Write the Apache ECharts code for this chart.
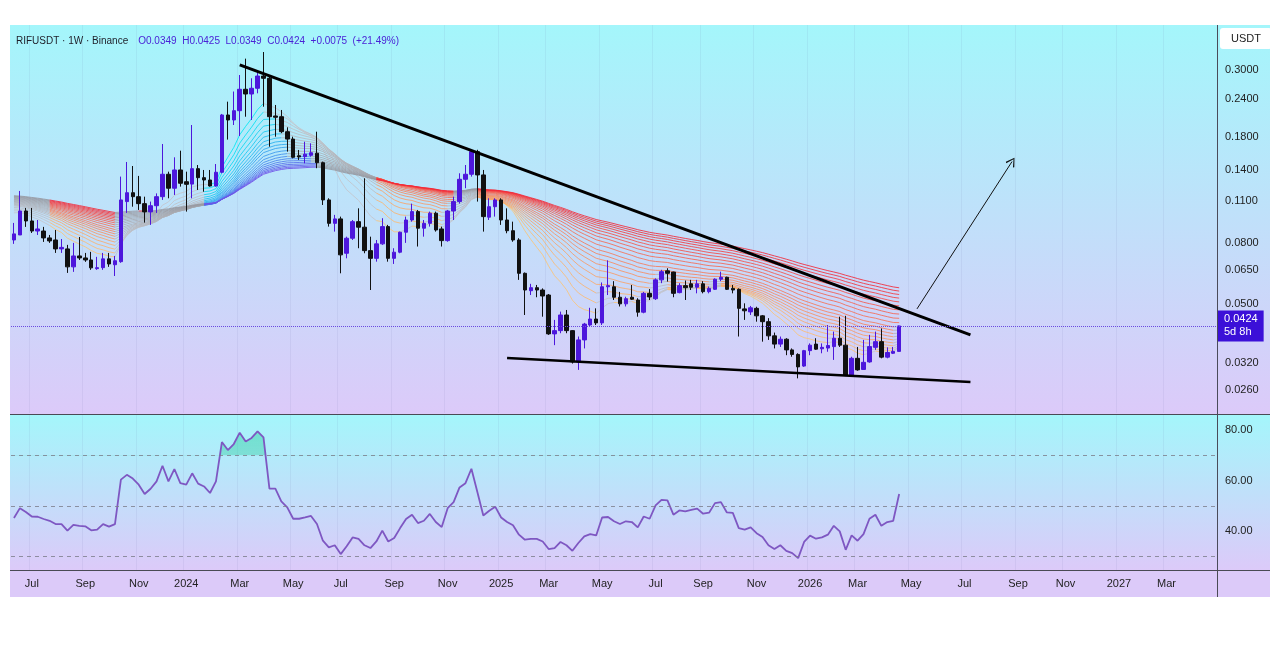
<!DOCTYPE html>
<html><head><meta charset="utf-8">
<script src="https://cdn.jsdelivr.net/npm/echarts@6/dist/echarts.min.js"></script>
<style>
html,body{margin:0;padding:0;background:#fff;}
#wrap{position:relative;width:1280px;height:649px;overflow:hidden;}
.bg{position:absolute;}
#chart{position:absolute;left:0;top:0;width:1280px;height:649px;}
</style></head><body>
<div id="wrap">
  <div class="bg" style="left:10px;top:25px;width:1260px;height:389px;background:linear-gradient(#a4f6fb,#dccaf9);"></div>
  <div class="bg" style="left:10px;top:415px;width:1260px;height:155px;background:linear-gradient(#a4f6fb,#dccaf9);"></div>
  <div class="bg" style="left:10px;top:570px;width:1260px;height:27px;background:#dccaf9;"></div>
  <div class="bg" style="left:10px;top:414px;width:1260px;height:1px;background:#4a4a55;"></div>
  <div class="bg" style="left:10px;top:570px;width:1260px;height:1px;background:#4a4a55;"></div>
  <div class="bg" style="left:1217px;top:25px;width:1px;height:572px;background:#4a4a55;"></div>
  <div id="chart"></div>
</div>
<script>
// ---------- data ----------
const startWeek = '2023-06-12';
const weekCount = 203;
const monthNames = ['Jan','Feb','Mar','Apr','May','Jun','Jul','Aug','Sep','Oct','Nov','Dec'];

const opens = [0.0818,0.0850,0.1021,0.0946,0.0876,0.0876,0.0831,0.0818,0.0764,0.0764,
0.0666,0.0724,0.0713,0.0702,0.0657,0.0662,0.0708,0.0677,0.0693,0.1097,
0.1174,0.1139,0.1080,0.1014,0.1063,0.1139,0.1352,0.1215,0.1397,0.1277,
0.1254,0.1411,0.1317,0.1294,0.1236,0.1373,0.2127,0.2047,0.2198,0.2589,
0.2497,0.2609,0.2865,0.2816,0.2111,0.2099,0.1872,0.1769,0.1558,0.1547,
0.1563,0.1588,0.1477,0.1111,0.0929,0.0961,0.0739,0.0829,0.0941,0.0902,
0.0754,0.0711,0.0794,0.0906,0.0711,0.0745,0.0868,0.0953,0.1016,0.0895,
0.0929,0.1004,0.0890,0.0814,0.1021,0.1097,0.1301,0.1352,0.1607,0.1345,
0.0974,0.1055,0.1111,0.0953,0.0878,0.0818,0.0634,0.0555,0.0568,0.0558,
0.0537,0.0399,0.0409,0.0461,0.0409,0.0322,0.0381,0.0427,0.0447,0.0434,
0.0572,0.0572,0.0528,0.0502,0.0528,0.0517,0.0471,0.0544,0.0522,0.0603,
0.0646,0.0640,0.0547,0.0577,0.0585,0.0570,0.0585,0.0551,0.0561,0.0606,
0.0615,0.0565,0.0561,0.0483,0.0472,0.0485,0.0458,0.0438,0.0393,0.0369,
0.0383,0.0353,0.0341,0.0312,0.0351,0.0369,0.0356,0.0358,0.0362,0.0386,
0.0366,0.0291,0.0331,0.0304,0.0322,0.0360,0.0376,0.0334,0.0344,0.0349];

const closes = [0.0857,0.1021,0.0946,0.0876,0.0890,0.0831,0.0812,0.0764,0.0773,0.0666,
0.0724,0.0713,0.0702,0.0661,0.0662,0.0708,0.0681,0.0698,0.1111,0.1174,
0.1139,0.1080,0.1014,0.1063,0.1139,0.1352,0.1215,0.1397,0.1262,0.1252,
0.1411,0.1317,0.1294,0.1236,0.1373,0.2127,0.2047,0.2198,0.2589,0.2497,
0.2609,0.2865,0.2816,0.2099,0.2090,0.1872,0.1769,0.1539,0.1543,0.1576,
0.1594,0.1477,0.1111,0.0929,0.0961,0.0730,0.0829,0.0941,0.0902,0.0754,
0.0711,0.0794,0.0906,0.0711,0.0745,0.0868,0.0953,0.1016,0.0895,0.0929,
0.1004,0.0883,0.0814,0.1021,0.1097,0.1301,0.1352,0.1607,0.1345,0.0978,
0.1055,0.1111,0.0953,0.0878,0.0818,0.0634,0.0558,0.0568,0.0558,0.0533,
0.0399,0.0409,0.0461,0.0409,0.0322,0.0381,0.0430,0.0447,0.0434,0.0572,
0.0577,0.0528,0.0502,0.0522,0.0520,0.0471,0.0544,0.0529,0.0603,0.0642,
0.0634,0.0544,0.0577,0.0568,0.0570,0.0585,0.0551,0.0565,0.0606,0.0615,
0.0561,0.0558,0.0485,0.0476,0.0487,0.0458,0.0438,0.0393,0.0369,0.0383,
0.0353,0.0341,0.0310,0.0351,0.0366,0.0355,0.0360,0.0365,0.0386,0.0366,
0.0291,0.0331,0.0303,0.0321,0.0362,0.0376,0.0334,0.0346,0.0349,0.0424];

const highs = [0.0932,0.1190,0.1045,0.1045,0.0953,0.0904,0.0850,0.0883,0.0824,0.0788,
0.0800,0.0837,0.0741,0.0747,0.0719,0.0741,0.0741,0.0724,0.1328,0.1485,
0.1440,0.1335,0.1139,0.1097,0.1168,0.1704,0.1379,0.1539,0.1619,0.1379,
0.1970,0.1451,0.1397,0.1397,0.1462,0.2144,0.2355,0.2545,0.2887,0.3272,
0.2816,0.2961,0.3442,0.2850,0.2296,0.2210,0.1936,0.1802,0.1628,0.1734,
0.1713,0.1872,0.1489,0.1125,0.0991,0.0978,0.0839,0.0953,0.1042,0.1311,
0.0839,0.0818,0.0966,0.0918,0.0768,0.0872,0.0978,0.1080,0.1029,0.0953,
0.1016,0.1016,0.0906,0.1029,0.1139,0.1362,0.1451,0.1628,0.1630,0.1397,
0.1125,0.1125,0.1125,0.1042,0.0941,0.0829,0.0638,0.0585,0.0580,0.0565,
0.0541,0.0444,0.0473,0.0479,0.0411,0.0391,0.0434,0.0487,0.0485,0.0591,
0.0700,0.0597,0.0550,0.0530,0.0580,0.0524,0.0550,0.0562,0.0610,0.0651,
0.0659,0.0642,0.0588,0.0600,0.0603,0.0603,0.0597,0.0573,0.0610,0.0642,
0.0618,0.0580,0.0565,0.0504,0.0494,0.0491,0.0461,0.0450,0.0403,0.0391,
0.0386,0.0357,0.0344,0.0353,0.0371,0.0386,0.0371,0.0427,0.0406,0.0455,
0.0458,0.0335,0.0361,0.0381,0.0396,0.0406,0.0416,0.0360,0.0361,0.0425];

const lows = [0.0794,0.0850,0.0904,0.0863,0.0850,0.0806,0.0800,0.0741,0.0741,0.0636,
0.0641,0.0702,0.0692,0.0651,0.0651,0.0651,0.0666,0.0621,0.0687,0.1006,
0.1055,0.1029,0.0934,0.0918,0.1006,0.1111,0.1125,0.1154,0.1230,0.1016,
0.1125,0.1199,0.1183,0.1230,0.1230,0.1362,0.1762,0.1970,0.1811,0.2099,
0.2047,0.2510,0.2266,0.1669,0.1802,0.1851,0.1607,0.1527,0.1508,0.1470,
0.1547,0.1416,0.1069,0.0906,0.0872,0.0634,0.0711,0.0818,0.0768,0.0739,
0.0558,0.0693,0.0788,0.0693,0.0681,0.0739,0.0800,0.0941,0.0778,0.0839,
0.0906,0.0872,0.0778,0.0807,0.0953,0.1080,0.1215,0.1328,0.1097,0.0872,
0.0953,0.0978,0.0918,0.0861,0.0807,0.0603,0.0461,0.0537,0.0528,0.0455,
0.0396,0.0366,0.0401,0.0401,0.0318,0.0303,0.0357,0.0422,0.0427,0.0427,
0.0537,0.0517,0.0492,0.0492,0.0517,0.0455,0.0467,0.0517,0.0517,0.0588,
0.0595,0.0528,0.0544,0.0517,0.0558,0.0544,0.0544,0.0544,0.0558,0.0597,
0.0558,0.0544,0.0391,0.0444,0.0461,0.0438,0.0376,0.0381,0.0357,0.0361,
0.0339,0.0335,0.0284,0.0310,0.0339,0.0353,0.0344,0.0348,0.0327,0.0361,
0.0289,0.0289,0.0301,0.0303,0.0320,0.0353,0.0331,0.0331,0.0342,0.0349];

const rsiValues = [45.2,49.1,47.6,45.8,45.7,44.8,44.1,42.8,42.8,40.2,
42.5,42.1,41.9,40.3,40.6,42.8,41.8,42.8,60.4,62.3,
60.8,58.4,54.7,56.8,59.7,65.9,59.7,64.6,59.0,58.4,
62.9,58.8,57.7,55.1,59.7,75.3,72.1,74.5,79.0,75.5,
76.9,79.5,77.1,56.8,56.8,51.8,49.4,44.9,44.9,45.4,
46.0,42.8,36.2,33.6,34.4,30.9,34.0,37.5,36.9,34.4,
33.3,35.9,40.2,35.9,37.3,41.2,44.8,46.5,43.2,44.1,
46.8,43.6,41.6,49.1,51.5,57.3,59.0,64.7,55.5,46.2,
48.1,49.7,45.4,43.6,42.3,38.6,36.6,36.9,36.9,35.9,
32.9,33.3,35.7,34.4,32.2,35.3,37.9,38.8,38.3,45.4,
45.6,43.9,42.8,43.9,43.6,41.5,45.8,44.9,50.2,52.4,
52.2,46.5,48.2,47.8,48.4,48.9,46.9,47.3,51.1,51.5,
47.4,47.2,41.2,40.6,41.5,39.2,37.7,34.4,32.9,34.4,
32.2,31.3,29.3,35.7,38.2,37.0,37.5,38.6,42.1,39.9,
32.6,38.3,36.2,38.8,44.9,46.5,42.1,43.6,44.1,54.7];

const priceTicks = [0.3000,0.2400,0.1800,0.1400,0.1100,0.0800,0.0650,0.0500,0.0320,0.0260];
const rsiTicks = [40,60,80];
const rsiLevels = [70,50,30];

// EMA ribbon: drawn periods and their starting values
const emaPeriods = [10,13,16,19,22,25,28,31,34,37,41,45,49,53,57,61,65,69,73,77];
const emaSeeds   = [0.104,0.105,0.106,0.107,0.108,0.1085,0.109,0.1095,0.110,0.1105,0.111,0.1115,0.112,0.1125,0.113,0.1135,0.114,0.1145,0.115,0.1155];
// ribbon trend state: [fromWeek, toWeek, state] (0 neutral, 1 bull, 2 bear)
const ribbonStates = [[0,6,0],[7,22,2],[23,32,0],[33,53,1],[54,61,0],[62,149,2]];

// drawn trend lines: [weekIndex, price]
const upperTrend = [[38,0.312],[161,0.0396]];
const lowerTrend = [[83,0.0332],[161,0.0276]];
const arrowLine  = [[152,0.0483],[168,0.149]];
const lastPrice = 0.0424;

// ---------- build ----------
const weeks = [];
const d0 = Date.UTC(2023,5,12);
for (let k=0;k<weekCount;k++){ weeks.push(new Date(d0 + k*7*86400000).toISOString().slice(0,10)); }
const labelIdx = new Set();
for (let k=1;k<weekCount;k++){
  const m = +weeks[k].slice(5,7), pm = +weeks[k-1].slice(5,7);
  if (m !== pm && m % 2 === 1) labelIdx.add(k);
}
const intervalFn = (idx) => labelIdx.has(idx);
const labelFmt = (val) => { const m = +val.slice(5,7); return m === 1 ? val.slice(0,4) : monthNames[m-1]; };

const candleData = opens.map((o,i)=>[o, closes[i], lows[i], highs[i]]);

function ema(n, seed){
  const a = 2/(n+1); let e = seed; const out=[];
  for (let i=0;i<closes.length;i++){ e = e + a*(closes[i]-e); out.push(e); }
  return out;
}
const emas = emaPeriods.map((n,k)=>ema(n, emaSeeds[k]));
const nL = emaPeriods.length;
const stateAt = (i) => { for (const r of ribbonStates) if (i>=r[0] && i<=r[1]) return r[2]; return 0; };
function lerp(c1,c2,t){ return 'rgb('+c1.map((v,j)=>Math.round(v+(c2[j]-v)*t)).join(',')+')'; }
const palette = [];
for (let s=0;s<3;s++){
  for (let k=0;k<nL;k++){
    const t = k/(nL-1);
    if (s===0) palette.push(lerp([196,198,204],[150,152,160],t));      // neutral grey
    else if (s===1) palette.push(lerp([0,232,242],[110,80,232],t));    // bullish
    else palette.push(lerp([250,196,120],[242,40,55],t));              // bearish
  }
}
const segs = [];
for (let k=0;k<nL;k++){
  for (let i=0;i<closes.length-1;i++){
    const v0 = emas[k][i], v1 = emas[k][i+1];
    const rising = v1 >= v0;
    const st = stateAt(i+1);
    let s = 0;
    if (st===1 && rising) s = 1; else if (st===2 && !rising) s = 2;
    segs.push([i, v0, v1, s*nL + k]);
  }
}

const chart = echarts.init(document.getElementById('chart'), null, {renderer:'canvas'});
const FONT = 'Liberation Sans';
const xBase = {
  type:'category', data: weeks, boundaryGap: true,
  axisLine:{show:false}, axisTick:{show:false},
  splitLine:{show:true, interval: intervalFn, lineStyle:{color:'rgba(90,90,150,0.08)', width:1}}
};
const option = {
  backgroundColor:'transparent',
  animation:false,
  title:[
    {left:16, top:32, padding:0, text:'{a|RIFUSDT · 1W · Binance}  {b|O0.0349  H0.0425  L0.0349  C0.0424  +0.0075  (+21.49%)}',
     textStyle:{fontWeight:'normal', rich:{a:{color:'#1e1e28', fontSize:10, fontWeight:'normal', fontFamily:FONT}, b:{color:'#4a22d6', fontSize:10, fontWeight:'normal', fontFamily:FONT}}}},
    {left:1220, top:28, text:'USDT', backgroundColor:'#ffffff', borderRadius:3, padding:[5,11],
     textStyle:{color:'#222', fontSize:11, fontWeight:'normal', fontFamily:FONT}}
  ],
  grid:[
    {left:11, right:63, top:25, height:388},
    {left:11, right:63, top:415, height:155},
    {left:11, right:63, top:415, height:40.4}
  ],
  xAxis:[
    Object.assign({}, xBase, {gridIndex:0, axisLabel:{show:false}}),
    Object.assign({}, xBase, {gridIndex:1, axisLabel:{show:true, interval:intervalFn, formatter:labelFmt, color:'#222', fontSize:11, margin:8, fontFamily:FONT}}),
    Object.assign({}, xBase, {gridIndex:2, axisLabel:{show:false}, splitLine:{show:false}})
  ],
  yAxis:[
    {type:'log', logBase:10, gridIndex:0, position:'right', min:0.02179, max:0.4232,
     axisLine:{show:false}, axisTick:{show:false}, splitLine:{show:false},
     axisLabel:{customValues: priceTicks, formatter:(v)=>Number(v).toFixed(4), color:'#222', fontSize:11, margin:8, fontFamily:FONT}},
    {type:'value', gridIndex:1, position:'right', min:24.6, max:86,
     axisLine:{show:false}, axisTick:{show:false}, splitLine:{show:false},
     axisLabel:{customValues: rsiTicks, formatter:(v)=>Number(v).toFixed(2), color:'#222', fontSize:11, margin:8, fontFamily:FONT}},
    {type:'value', gridIndex:2, min:70, max:86, show:false}
  ],
  series:[
    { // 0 EMA ribbon
      type:'custom', xAxisIndex:0, yAxisIndex:0, z:1, silent:true, clip:true,
      data: segs, encode:{x:0, y:[1,2]},
      renderItem:(params, api)=>{
        const i = api.value(0);
        const p0 = api.coord([i, api.value(1)]);
        const p1 = api.coord([i+1, api.value(2)]);
        return {type:'line', shape:{x1:p0[0], y1:p0[1], x2:p1[0], y2:p1[1]},
                style:{stroke: palette[api.value(3)], lineWidth:1, opacity:0.85}};
      }
    },
    { // 1 candles
      type:'candlestick', xAxisIndex:0, yAxisIndex:0, z:3, data: candleData, barWidth:4,
      itemStyle:{color:'#4d17dc', color0:'#111111', borderColor:'#4d17dc', borderColor0:'#111111', borderWidth:1},
      markLine:{
        silent:true, symbol:['none','none'], precision:4,
        data:[{yAxis:lastPrice}],
        lineStyle:{color:'#6a4be0', type:'dotted', width:1},
        label:{show:true, position:'end', distance:1, formatter:'0.0424\n5d 8h', color:'#fff',
               backgroundColor:'#3b10d8', padding:[3,6,2,6], fontSize:11, lineHeight:13, fontFamily:FONT}
      }
    },
    { // 2 upper trend + arrow
      type:'line', xAxisIndex:0, yAxisIndex:0, z:4, data: upperTrend, symbol:'none', silent:true,
      lineStyle:{color:'#000', width:3},
      markLine:{silent:true, symbol:['none','path://M5,0 L10,9 L9,10 L5,2 L1,10 L0,9 Z'], symbolSize:[10,9],
        label:{show:false}, lineStyle:{color:'#111', width:1, type:'solid'},
        data:[[{coord:arrowLine[0]},{coord:arrowLine[1]}]]}
    },
    { // 3 lower trend
      type:'line', xAxisIndex:0, yAxisIndex:0, z:4, data: lowerTrend, symbol:'none', silent:true,
      lineStyle:{color:'#000', width:2.5}
    },
    { // 4 RSI line
      type:'line', xAxisIndex:1, yAxisIndex:1, z:4, data: rsiValues, symbol:'none', silent:true,
      lineStyle:{color:'#7e57c2', width:1.8},
      markLine:{silent:true, symbol:['none','none'], label:{show:false},
        data: rsiLevels.map(v=>({yAxis:v})),
        lineStyle:{color:'#7b7d8a', type:[4,4], width:1, opacity:0.8}}
    },
    { // 5 RSI overbought fill (upper band grid, clipped at 70)
      type:'line', xAxisIndex:2, yAxisIndex:2, z:3, data: rsiValues, symbol:'none', silent:true, clip:true,
      lineStyle:{width:0, opacity:0},
      areaStyle:{origin:'start', color:new echarts.graphic.LinearGradient(0,0,0,1,[
        {offset:0, color:'rgba(20,200,140,0.55)'},{offset:1, color:'rgba(20,200,140,0.12)'}])}
    }
  ]
};
chart.setOption(option);
</script>
</body></html>
